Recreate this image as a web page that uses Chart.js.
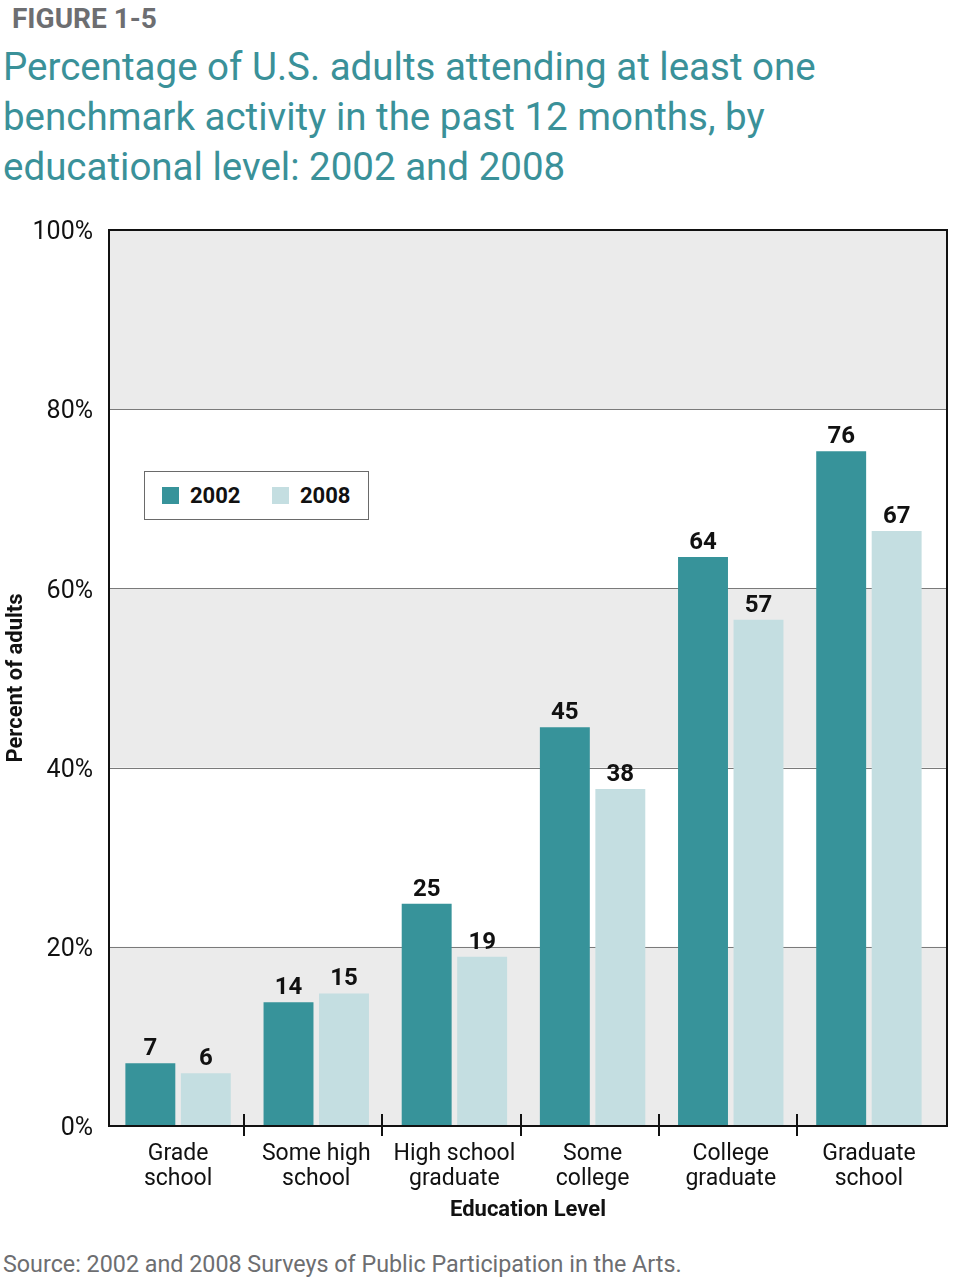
<!DOCTYPE html>
<html>
<head>
<meta charset="utf-8">
<script src="https://cdn.jsdelivr.net/npm/chart.js@4.4.1/dist/chart.umd.min.js"></script>
<style>
  html, body { margin: 0; padding: 0; background: #fff; }
  body { width: 954px; height: 1277px; position: relative; overflow: hidden; font-family: Roboto, sans-serif; }
  #fig { position: absolute; left: 12px; top: 4px; font: bold 28px/30px Roboto, sans-serif; color: #6d6e71; }
  #title { position: absolute; left: 3px; top: 42px; font: 38.5px/50px Roboto, sans-serif; color: #3a9199; white-space: nowrap; }
  #wrap { position: absolute; left: 0; top: 200px; width: 954px; height: 1040px; }
  #legend { position: absolute; left: 144px; top: 471px; width: 223px; height: 47px; border: 1.5px solid #6a6a6a; background: #fff; }
  #legend .item { position: absolute; top: 0; height: 47px; display: flex; align-items: center; font: bold 22px Roboto, sans-serif; color: #111; }
  #legend .sw { width: 17px; height: 17px; margin-right: 11px; }
  #source { position: absolute; left: 3px; top: 1251px; font: 23.3px/26px Roboto, sans-serif; color: #6d6e71; white-space: nowrap; }
</style>
</head>
<body>
<div id="fig">FIGURE 1-5</div>
<div id="title">Percentage of U.S. adults attending at least one<br>benchmark activity in the past 12 months, by<br>educational level: 2002 and 2008</div>
<div id="wrap"><canvas id="chart"></canvas></div>
<div id="legend"></div>
<div id="source">Source: 2002 and 2008 Surveys of Public Participation in the Arts.</div>
<script>
const categories = [
  ["Grade", "school"],
  ["Some high", "school"],
  ["High school", "graduate"],
  ["Some", "college"],
  ["College", "graduate"],
  ["Graduate", "school"],
];
const years = ["2002", "2008"];
const values2002 = [7.0, 13.8, 24.8, 44.5, 63.5, 75.3];
const values2008 = [5.9, 14.8, 18.9, 37.6, 56.5, 66.4];
const labels2002 = ["7", "14", "25", "45", "64", "76"];
const labels2008 = ["6", "15", "19", "38", "57", "67"];
const yTicks = [0, 20, 40, 60, 80, 100];

const colors = ["#37939a", "#c4dee1"];
const barLabels = [labels2002, labels2008];

Chart.defaults.font.family = "Roboto, sans-serif";
Chart.defaults.color = "#111";

// bands, grid lines, frame, category ticks, value labels and x title
const frame = {
  id: "frame",
  beforeDatasetsDraw(chart) {
    const { ctx, chartArea: a, scales: { y } } = chart;
    const right = a.right + 9;
    ctx.save();
    ctx.fillStyle = "#ebebeb";
    for (let i = 0; i < yTicks.length - 1; i += 2) {
      const top = y.getPixelForValue(yTicks[i + 1]);
      const bot = y.getPixelForValue(yTicks[i]);
      ctx.fillRect(a.left, top, right - a.left, bot - top);
    }
    ctx.strokeStyle = "#7a7a7a";
    ctx.lineWidth = 1.2;
    yTicks.slice(1, -1).forEach((v) => {
      const py = Math.round(y.getPixelForValue(v)) + 0.5;
      ctx.beginPath();
      ctx.moveTo(a.left, py);
      ctx.lineTo(right, py);
      ctx.stroke();
    });
    ctx.restore();
  },
  afterDatasetsDraw(chart) {
    const { ctx, chartArea: a, scales: { x } } = chart;
    const right = a.right + 9;
    ctx.save();
    ctx.strokeStyle = "#111";
    ctx.lineWidth = 2;
    ctx.strokeRect(a.left, a.top, right - a.left, a.bottom - a.top);
    for (let i = 1; i < categories.length; i++) {
      const px = Math.round((x.getPixelForValue(i - 1) + x.getPixelForValue(i)) / 2) - 3;
      ctx.beginPath();
      ctx.moveTo(px, a.bottom - 12);
      ctx.lineTo(px, a.bottom + 10);
      ctx.stroke();
    }
    ctx.fillStyle = "#111";
    ctx.font = "bold 24px Roboto, sans-serif";
    ctx.textAlign = "center";
    ctx.textBaseline = "alphabetic";
    chart.data.datasets.forEach((ds, d) => {
      chart.getDatasetMeta(d).data.forEach((bar, i) => {
        ctx.fillText(barLabels[d][i], bar.x, bar.y - 8);
      });
    });
    ctx.font = "bold 22px Roboto, sans-serif";
    ctx.fillText("Education Level", (a.left + right) / 2, a.bottom + 90);
    ctx.restore();
  },
};

new Chart(document.getElementById("chart"), {
  type: "bar",
  data: {
    labels: categories,
    datasets: [
      { label: years[0], data: values2002, backgroundColor: colors[0] },
      { label: years[1], data: values2008, backgroundColor: colors[1] },
    ],
  },
  options: {
    responsive: true,
    maintainAspectRatio: false,
    animation: false,
    layout: { padding: { top: 30, right: 16, bottom: 0, left: 0 } },
    datasets: { bar: { categoryPercentage: 0.803, barPercentage: 0.9 } },
    scales: {
      x: {
        grid: { display: false },
        border: { display: false },
        ticks: { font: { size: 23, lineHeight: 1.07 }, color: "#111", padding: 8, maxRotation: 0, autoSkip: false },
        afterFit(scale) { scale.height = 114; },
      },
      y: {
        min: 0,
        max: 100,
        grid: { display: false },
        border: { display: false },
        afterBuildTicks(scale) { scale.ticks = yTicks.map((v) => ({ value: v })); },
        ticks: { font: { size: 25 }, color: "#111", padding: 8, labelOffset: 3, callback: (v) => v + "%" },
        title: { display: true, text: "Percent of adults", font: { size: 22, weight: "bold" }, color: "#111", padding: { top: 3, bottom: 0 } },
        afterFit(scale) { scale.width = 109; },
      },
    },
    plugins: {
      legend: { display: false },
      tooltip: { enabled: false },
    },
  },
  plugins: [frame],
});

const legend = document.getElementById("legend");
const legendLeft = [17, 127];
years.forEach((yr, i) => {
  const item = document.createElement("div");
  item.className = "item";
  item.style.left = legendLeft[i] + "px";
  item.innerHTML = '<span class="sw" style="background:' + colors[i] + '"></span>' + yr;
  legend.appendChild(item);
});
</script>
</body>
</html>
